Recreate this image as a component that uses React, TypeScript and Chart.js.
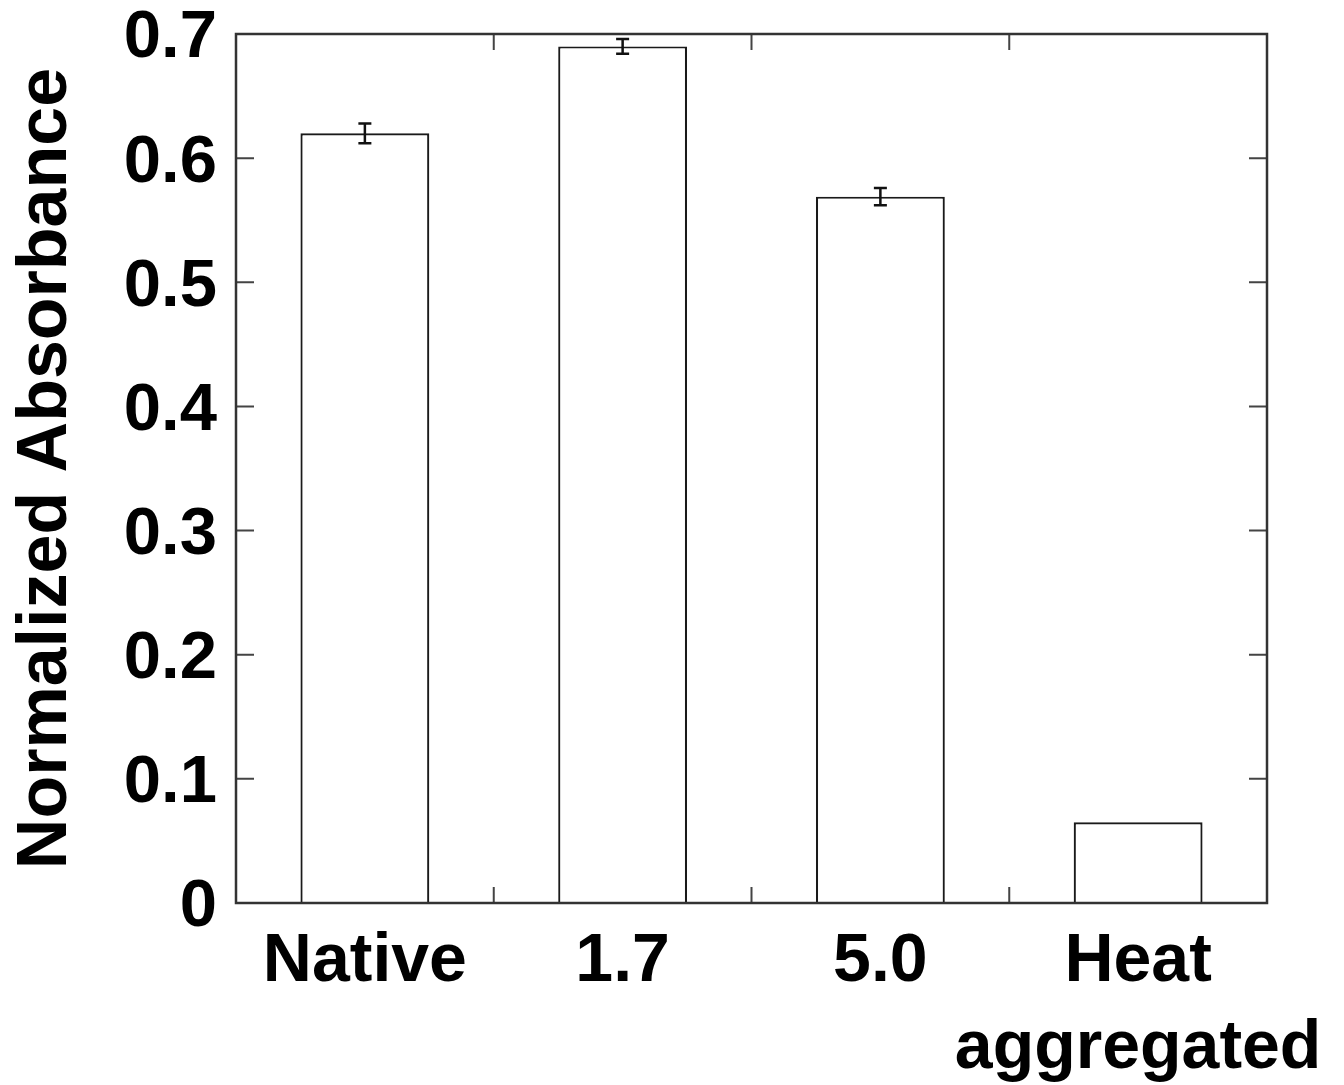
import React, { useEffect, useRef } from "react";
import { Chart, registerables } from "chart.js";

Chart.register(...registerables);

const categories: (string | string[])[] = ["Native", "1.7", "5.0", ["Heat", "aggregated"]];
const values: number[] = [0.62, 0.69, 0.569, 0.065];
const errors: number[] = [0.008, 0.006, 0.007, 0];
const yTicks: number[] = [0, 0.1, 0.2, 0.3, 0.4, 0.5, 0.6, 0.7];

const FONT = "'Liberation Sans', Arial, Helvetica, sans-serif";

const framePlugin = {
  id: "frameAndErrors",
  afterDatasetsDraw(chart: any) {
    const { ctx, chartArea, scales } = chart;
    const x = scales.x;
    const y = scales.y;
    const { left, right, top, bottom } = chartArea;
    ctx.save();
    // error bars
    ctx.strokeStyle = "#111";
    ctx.lineWidth = 2.5;
    values.forEach((v, i) => {
      const e = errors[i];
      if (!e) return;
      const cx = x.getPixelForValue(i);
      const y1 = y.getPixelForValue(v + e);
      const y2 = y.getPixelForValue(v - e);
      ctx.beginPath();
      ctx.moveTo(cx, y1);
      ctx.lineTo(cx, y2);
      ctx.moveTo(cx - 6.5, y1);
      ctx.lineTo(cx + 6.5, y1);
      ctx.moveTo(cx - 6.5, y2);
      ctx.lineTo(cx + 6.5, y2);
      ctx.stroke();
    });
    // ticks
    const tl = 18;
    ctx.strokeStyle = "#444";
    ctx.lineWidth = 2;
    yTicks.forEach((t) => {
      const py = y.getPixelForValue(t);
      ctx.beginPath();
      ctx.moveTo(left, py);
      ctx.lineTo(left + tl, py);
      ctx.moveTo(right, py);
      ctx.lineTo(right - tl, py);
      ctx.stroke();
    });
    for (let i = 0; i < categories.length - 1; i++) {
      const px = (x.getPixelForValue(i) + x.getPixelForValue(i + 1)) / 2;
      ctx.beginPath();
      ctx.moveTo(px, bottom);
      ctx.lineTo(px, bottom - tl + 2);
      ctx.moveTo(px, top);
      ctx.lineTo(px, top + tl - 2);
      ctx.stroke();
    }
    // frame
    ctx.strokeStyle = "#333";
    ctx.lineWidth = 2.5;
    ctx.strokeRect(left, top, right - left, bottom - top);
    ctx.restore();
  },
};

export default function App() {
  const ref = useRef<HTMLCanvasElement | null>(null);
  useEffect(() => {
    if (!ref.current) return;
    const chart = new Chart(ref.current, {
      type: "bar",
      data: {
        labels: categories,
        datasets: [
          {
            data: values,
            backgroundColor: "#ffffff",
            borderColor: "#1a1a1a",
            borderWidth: 2.2,
            borderSkipped: "bottom",
            categoryPercentage: 1,
            barPercentage: 0.5,
          },
        ],
      },
      options: {
        responsive: false,
        animation: false,
        layout: { padding: { top: 34, right: 77, left: 0, bottom: 0 } },
        plugins: {
          legend: { display: false },
          tooltip: { enabled: false },
          title: { display: false },
        },
        scales: {
          x: {
            grid: { display: false, drawTicks: false },
            border: { display: false },
            ticks: {
              color: "#000",
              padding: 16,
              maxRotation: 0,
              autoSkip: false,
              font: { family: FONT, size: 68, weight: "bold", lineHeight: 1.28 },
            },
            afterFit: (s: any) => {
              s.height = 182;
              s.paddingLeft = 0;
              s.paddingRight = 0;
            },
          },
          y: {
            min: 0,
            max: 0.7,
            grid: { display: false, drawTicks: false },
            border: { display: false },
            afterBuildTicks: (s: any) => {
              s.ticks = yTicks.map((v) => ({ value: v }));
            },
            ticks: {
              color: "#000",
              padding: 19,
              labelOffset: 5,
              font: { family: FONT, size: 67, weight: "bold" },
              callback: (v: any) => (Number(v) === 0 ? "0" : Number(v).toFixed(1)),
            },
            title: {
              display: true,
              text: "Normalized Absorbance",
              color: "#000",
              padding: { top: 5, bottom: 0 },
              font: { family: FONT, size: 70, weight: "bold", lineHeight: 1.2 },
            },
            afterFit: (s: any) => {
              s.width = 236;
              s.paddingTop = 0;
              s.paddingBottom = 0;
            },
          },
        },
      },
      plugins: [framePlugin],
    });
    return () => chart.destroy();
  }, []);
  return (
    <div style={{ position: "absolute", left: 0, top: 0, width: 1344, height: 1085, background: "#fff" }}>
      <canvas ref={ref} width={1344} height={1085} />
    </div>
  );
}
